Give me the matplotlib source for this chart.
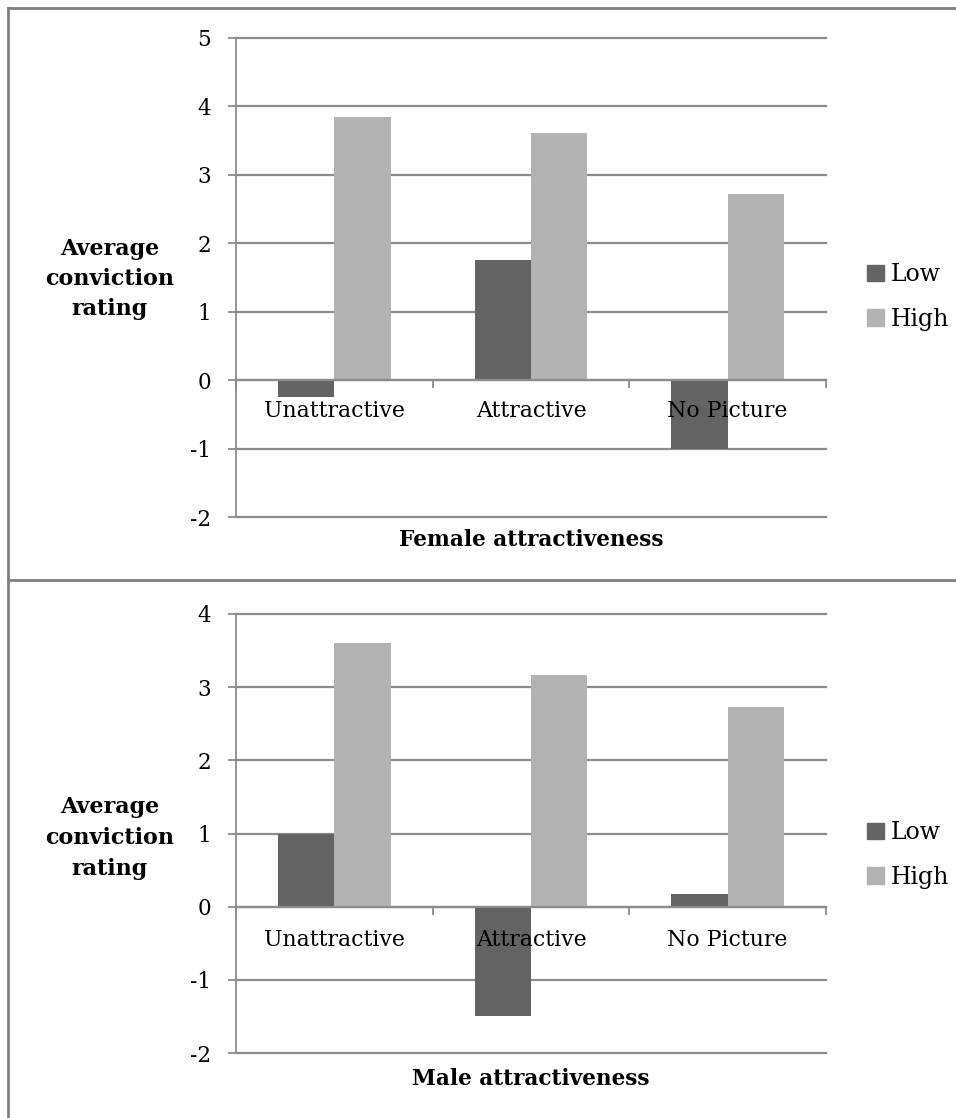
import numpy as np
import matplotlib.pyplot as plt
from matplotlib.lines import Line2D
from matplotlib.patches import Patch
from matplotlib.transforms import offset_copy

categories = ["Unattractive", "Attractive", "No Picture"]
series_names = ["Low", "High"]
female_low = [-0.25, 1.75, -1.0]
female_high = [3.84, 3.61, 2.72]
male_low = [1.0, -1.5, 0.17]
male_high = [3.61, 3.16, 2.73]

LOW_COLOR = "#636363"
HIGH_COLOR = "#b2b2b2"
GRID_COLOR = "#8c8c8c"

plt.rcParams['font.family'] = ["DejaVu Serif"]

fig = plt.figure(figsize=(9.56, 11.18), dpi=100)


def draw_panel(rect, low, high, ymin, ymax, xlabel, ylabel_y, xlabel_y, legend_y, label_off):
    ax = fig.add_axes(rect)
    x = np.arange(len(categories))
    w = 1 / 3.5  # excel gap width 150%
    ax.bar(x - w / 2, low, w, color=LOW_COLOR, zorder=3, label=series_names[0])
    ax.bar(x + w / 2, high, w, color=HIGH_COLOR, zorder=3, label=series_names[1])

    ax.set_xlim(-0.5, len(categories) - 0.5)
    ax.set_ylim(ymin, ymax)
    ax.set_yticks(np.arange(ymin, ymax + 1))
    ax.set_yticklabels([str(v) for v in range(ymin, ymax + 1)], fontsize=15.5)
    ax.yaxis.grid(True, color=GRID_COLOR, linewidth=1.6, zorder=0)
    for gl in ax.get_ygridlines():
        gl.set_clip_on(False)

    for s in ["top", "right"]:
        ax.spines[s].set_visible(False)
    ax.spines["left"].set_color(GRID_COLOR)
    ax.spines["left"].set_linewidth(1.3)
    ax.spines["bottom"].set_position(("data", 0))
    ax.spines["bottom"].set_color(GRID_COLOR)
    ax.spines["bottom"].set_linewidth(1.6)
    ax.spines["bottom"].set_zorder(4)

    # tick marks between categories
    ax.set_xticks([-0.5, 0.5, 1.5, 2.5])
    ax.set_xticklabels([])
    ax.tick_params(axis="x", which="major", length=6, color=GRID_COLOR, width=1.3)
    ax.tick_params(axis="y", length=6, color=GRID_COLOR, width=1.3, pad=12)

    # category labels sit on top of the bars, like in excel
    trans = offset_copy(ax.transData, fig=fig, y=-label_off, units="points")
    for xi, cat in zip(x, categories):
        ax.text(xi, 0, cat, transform=trans, ha="center", va="center",
                fontsize=15.8, zorder=6)

    fig.text(110 / 956, 1 - ylabel_y / 1118, "Average\nconviction\nrating",
             ha="center", va="center", fontsize=16, fontweight="bold", linespacing=1.5)
    fig.text(531 / 956, 1 - xlabel_y / 1118, xlabel,
             ha="center", va="center", fontsize=15.6, fontweight="bold")

    handles = [Patch(color=LOW_COLOR), Patch(color=HIGH_COLOR)]
    fig.legend(handles, series_names, loc="center left",
               bbox_to_anchor=(846 / 956, 1 - legend_y / 1118),
               frameon=False, fontsize=17, handlelength=0.7, handleheight=0.7,
               handletextpad=0.3, labelspacing=0.9)
    return ax


draw_panel([236 / 956, 1 - 517 / 1118, 590 / 956, 479 / 1118],
           female_low, female_high, -2, 5, "Female attractiveness", 279, 540, 297, 22.5)
draw_panel([236 / 956, 1 - 1053 / 1118, 590 / 956, 439 / 1118],
           male_low, male_high, -2, 4, "Male attractiveness", 838, 1079, 855, 24)

# outer frame lines
frame = dict(color="#808080", linewidth=2, transform=fig.transFigure)
fig.add_artist(Line2D([8 / 956, 8 / 956], [0, 1 - 8 / 1118], **frame))
fig.add_artist(Line2D([8 / 956, 1], [1 - 8 / 1118, 1 - 8 / 1118], **frame))
fig.add_artist(Line2D([8 / 956, 1], [1 - 580 / 1118, 1 - 580 / 1118], **frame))

fig.savefig("out.png", dpi=100)
